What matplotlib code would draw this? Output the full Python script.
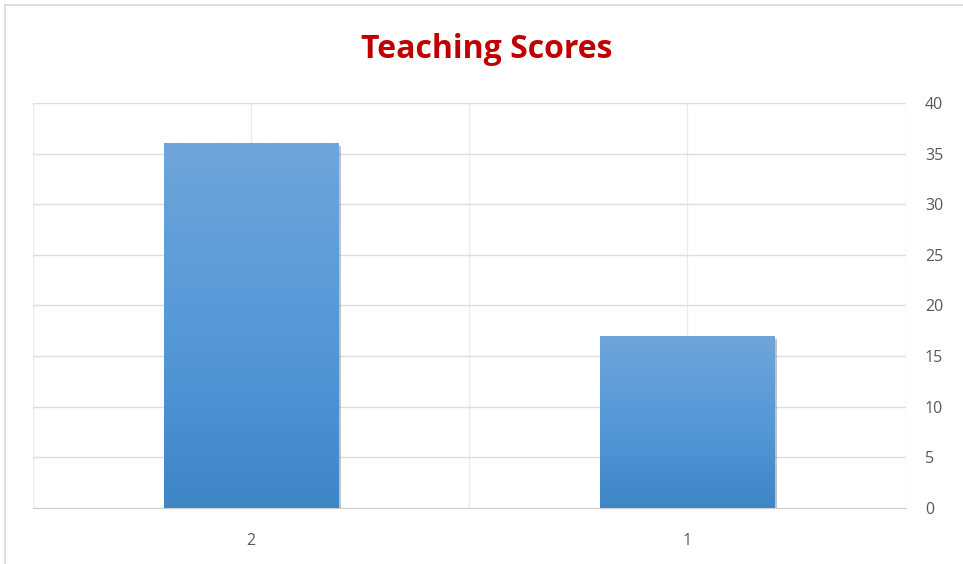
import numpy as np
import matplotlib.pyplot as plt
import matplotlib.patheffects as pe
from matplotlib.lines import Line2D
from matplotlib.colors import LinearSegmentedColormap

# Data
categories = ["2", "1"]
scores = [36, 17]

BAR_TOP = "#6FA5DB"
BAR_BOT = "#3F86C7"
GRID = "#DEDEDE"
TXT = "#595959"

plt.rcParams["font.family"] = ["Open Sans", "DejaVu Sans"]

fig = plt.figure(figsize=(9.63, 5.64), dpi=100)
ax = fig.add_axes([0.0343, 0.0993, 0.906, 0.7181])

x = np.arange(len(categories))
bars = ax.bar(x, scores, width=0.4, color=BAR_BOT, zorder=3,
              path_effects=[pe.SimplePatchShadow(offset=(2, -2), alpha=0.35,
                                                 shadow_rgbFace="#555555"),
                            pe.Normal()])

# vertical gradient on each bar
grad = np.linspace(0, 1, 256).reshape(-1, 1)
cmap = LinearSegmentedColormap.from_list("bar", [BAR_BOT, "#5599D8", BAR_TOP])
for b in bars:
    x0, w, h = b.get_x(), b.get_width(), b.get_height()
    im = ax.imshow(grad, extent=[x0, x0 + w, 0, h], origin="lower",
                   cmap=cmap, aspect="auto", zorder=4)
    im.set_clip_path(b)

ax.set_xlim(-0.5, len(categories) - 0.5)
ax.set_ylim(0, 40)
ax.set_yticks(np.arange(0, 41, 5))
ax.set_xticks(x)
ax.set_xticklabels(categories)

ax.yaxis.tick_right()
ax.tick_params(axis="both", length=0, colors=TXT, labelsize=11.5)
ax.tick_params(axis="y", pad=14)
ax.tick_params(axis="x", pad=18)

ax.grid(axis="y", color=GRID, linewidth=1, zorder=0)
for gx in np.arange(-0.5, len(categories), 0.5):
    ax.axvline(gx, color="#EBEBEB", linewidth=1, zorder=0)

for s in ["left", "right", "top"]:
    ax.spines[s].set_visible(False)
ax.spines["bottom"].set_color("#D0D0D0")
ax.spines["bottom"].set_zorder(2)

fig.text(0.505, 0.912, "Teaching Scores", ha="center", va="center",
         fontsize=23, fontweight="bold", color="#C00000")

# outer chart border (top and left visible)
fig.add_artist(Line2D([5 / 963, 5 / 963], [0, 1 - 5 / 564],
                      color="#D9D9D9", linewidth=1.2, transform=fig.transFigure))
fig.add_artist(Line2D([5 / 963, 1], [1 - 5 / 564, 1 - 5 / 564],
                      color="#D9D9D9", linewidth=1.2, transform=fig.transFigure))

fig.savefig("out.png", dpi=100, facecolor="white")
